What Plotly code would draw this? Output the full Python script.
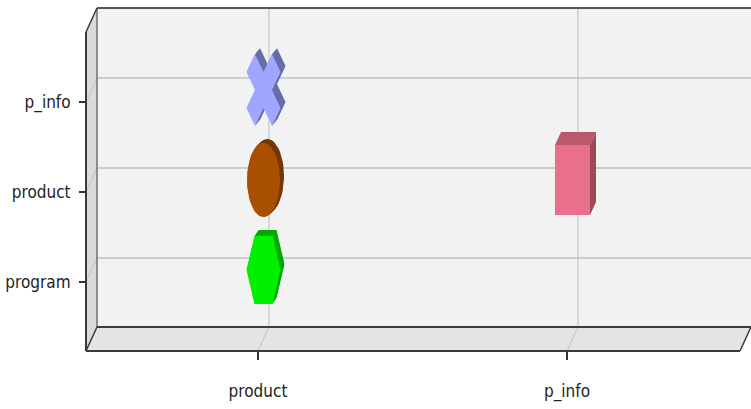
import numpy as np
import plotly.graph_objects as go

# ---- data -------------------------------------------------------------
x_categories = ["product", "p_info"]
y_categories = ["program", "product", "p_info"]

point_x = ["product", "product", "product", "p_info"]
point_y = ["p_info", "product", "program", "product"]
point_shape = ["cross", "ellipse", "hexagon", "box"]

# ---- pseudo-3D frame geometry (pixels) --------------------------------
W, H = 751, 409
BX0, BX1, BY0, BY1 = 97, 751, 8, 327      # back wall of the plot box
DX, DY = -11, 24                          # back wall -> front edge offset
GX0, GX_STEP = 269, 309                   # first x category position, spacing
GY0, GY_STEP = 258, 90                    # first (lowest) y category, spacing
MID = 0.5                                 # depth at which the glyphs sit

x_range = [(BX0 - GX0) / GX_STEP, (BX1 - GX0) / GX_STEP]
y_range = [(GY0 - BY1) / GY_STEP, (GY0 - BY0) / GY_STEP]


def px(x):
    return x / W


def py(y):
    return 1 - y / H


def dom_x(shift):
    return [px(BX0 + shift), px(BX1 + shift)]


def dom_y(shift):
    return [py(BY1 + shift), py(BY0 + shift)]


# ---- glyph outlines (pixels, x right, y up, around the face centre) ---
def cross_outline(hw=17, hh=36, c=0.5):
    u = [(0, c), (1 - c, 1), (1, 1 - c), (c, 0), (1, -(1 - c)), (1 - c, -1),
         (0, -c), (-(1 - c), -1), (-1, -(1 - c)), (-c, 0), (-1, 1 - c), (-(1 - c), 1)]
    return [(a * hw, b * hh) for a, b in u]


def ellipse_outline(rx=16.5, ry=37, n=60):
    t = np.linspace(0, 2 * np.pi, n, endpoint=False)
    return list(zip(rx * np.cos(t), ry * np.sin(t)))


def hexagon_outline():
    return [(-9, 34), (9, 34), (17, 0), (9, -34), (-9, -34), (-17, 0)]


glyph_style = {
    "cross":   dict(outline=cross_outline(), face="#a0a6ff", shade="#676dab", ext=(5, 6)),
    "ellipse": dict(outline=ellipse_outline(), face="#a85000", shade="#733800", ext=(4, 4)),
    "hexagon": dict(outline=hexagon_outline(), face="#00f000", shade="#00aa00", ext=(4, 6)),
}
BOX = dict(hw=17.5, hh=35, ext=(6, 13), face="#e9708a", top="#b85a6b", side="#9c4a5a")

fig = go.Figure()


def poly_trace(cx, cy, pts, color, ox=0.0, oy=0.0):
    xs = [cx + (p[0] + ox) / GX_STEP for p in pts]
    ys = [cy + (p[1] + oy) / GY_STEP for p in pts]
    xs.append(xs[0])
    ys.append(ys[0])
    return go.Scatter(x=xs, y=ys, xaxis="x3", yaxis="y3", mode="lines",
                      fill="toself", fillcolor=color, line=dict(width=0, color=color),
                      hoverinfo="skip", showlegend=False)


for xc, yc, shape in zip(point_x, point_y, point_shape):
    cx = x_categories.index(xc)
    cy = y_categories.index(yc)
    if shape == "box":
        hw, hh = BOX["hw"], BOX["hh"]
        ex, ey = BOX["ext"]
        side = [(hw, hh), (hw, -hh), (hw + ex, -hh + ey), (hw + ex, hh + ey)]
        top = [(-hw, hh), (hw, hh), (hw + ex, hh + ey), (-hw + ex, hh + ey)]
        front = [(-hw, hh), (hw, hh), (hw, -hh), (-hw, -hh)]
        fig.add_trace(poly_trace(cx, cy, side, BOX["side"]))
        fig.add_trace(poly_trace(cx, cy, top, BOX["top"]))
        fig.add_trace(poly_trace(cx, cy, front, BOX["face"]))
    else:
        st = glyph_style[shape]
        ex, ey = st["ext"]
        for t in np.linspace(1, 0.1, 8):
            fig.add_trace(poly_trace(cx, cy, st["outline"], st["shade"], ex * t, ey * t))
        fig.add_trace(poly_trace(cx, cy, st["outline"], st["face"]))

# keeps the front (labelled) axes and the back-wall axes alive
fig.add_trace(go.Scatter(x=[0], y=[0], xaxis="x2", yaxis="y2", mode="markers",
                         marker=dict(opacity=0), hoverinfo="skip", showlegend=False))
fig.add_trace(go.Scatter(x=[0], y=[0], xaxis="x", yaxis="y", mode="markers",
                         marker=dict(opacity=0), hoverinfo="skip", showlegend=False))


# ---- frame: back wall, left wall, floor -------------------------------
def path(pts):
    s = "M " + " L ".join(f"{px(x):.5f},{py(y):.5f}" for x, y in pts) + " Z"
    return s


def seg(x0, y0, x1, y1, color, width, layer="above"):
    return dict(type="line", xref="paper", yref="paper", x0=px(x0), y0=py(y0),
                x1=px(x1), y1=py(y1), line=dict(color=color, width=width), layer=layer)


shapes = [
    dict(type="path", xref="paper", yref="paper", layer="below",
         path=path([(BX0, BY0), (BX1, BY0), (BX1, BY1), (BX0, BY1)]),
         fillcolor="#f2f2f2", line=dict(width=0)),
    dict(type="path", xref="paper", yref="paper", layer="below",
         path=path([(BX0, BY0), (BX0 + DX, BY0 + DY), (BX0 + DX, BY1 + DY), (BX0, BY1)]),
         fillcolor="#dadada", line=dict(width=0)),
    dict(type="path", xref="paper", yref="paper", layer="below",
         path=path([(BX0, BY1), (BX1, BY1), (BX1 + DX, BY1 + DY), (BX0 + DX, BY1 + DY)]),
         fillcolor="#e4e4e4", line=dict(width=0)),
]
# back-wall grid lines at the category positions, plus their slanted
# continuation across the left wall and the floor
for i in range(len(y_categories)):
    shapes.append(dict(type="line", xref="x domain", yref="y", x0=0, x1=1, y0=i, y1=i,
                       line=dict(color="#cdcdcd", width=2), layer="below"))
    gy = GY0 - i * GY_STEP
    shapes.append(seg(BX0, gy, BX0 + DX, gy + DY, "#c4c4c4", 1, "below"))
for i in range(len(x_categories)):
    shapes.append(dict(type="line", xref="x", yref="y domain", x0=i, x1=i, y0=0, y1=1,
                       line=dict(color="#bcbcbc", width=1), layer="below"))
    gx = GX0 + i * GX_STEP
    shapes.append(seg(gx, BY1, gx + DX, BY1 + DY, "#c4c4c4", 1, "below"))

edge = "#3a3a3a"
shapes += [
    seg(BX0, BY0, BX1, BY0, "#555555", 2),
    seg(BX0, BY0, BX0, BY1, "#555555", 1.2),
    seg(BX0, BY0, BX0 + DX, BY0 + DY, edge, 1.5),
    seg(BX0 + DX, BY0 + DY, BX0 + DX, BY1 + DY, edge, 2),
    seg(BX0, BY1, BX1, BY1, edge, 2),
    seg(BX0 + DX, BY1 + DY, BX1 + DX, BY1 + DY, edge, 2),
    seg(BX0, BY1, BX0 + DX, BY1 + DY, edge, 1.5),
    seg(BX1, BY1, BX1 + DX, BY1 + DY, edge, 1.5),
]

font = dict(family="Liberation Sans Narrow, DejaVu Sans Condensed, sans-serif",
            size=17, color="#222222")
xt = list(range(len(x_categories)))
yt = list(range(len(y_categories)))

hidden = dict(showticklabels=False, ticks="", zeroline=False, showline=False, showgrid=False)

fig.update_layout(
    width=W, height=H, margin=dict(l=0, r=0, t=0, b=0),
    paper_bgcolor="white", plot_bgcolor="rgba(0,0,0,0)",
    showlegend=False, shapes=shapes, font=font,
    xaxis=dict(domain=dom_x(0), range=x_range, anchor="y", **hidden),
    yaxis=dict(domain=dom_y(0), range=y_range, anchor="x", **hidden),
    xaxis2=dict(domain=dom_x(DX), range=x_range, anchor="y2", tickvals=xt,
                ticktext=x_categories, ticks="outside", ticklen=8, tickwidth=1.5,
                tickcolor="#333333", ticklabelstandoff=17, showgrid=False,
                zeroline=False, showline=False, tickfont=font),
    yaxis2=dict(domain=dom_y(DY), range=y_range, anchor="x2", tickvals=yt,
                ticktext=y_categories, ticks="outside", ticklen=6, tickwidth=1.5,
                tickcolor="#333333", ticklabelstandoff=5, showgrid=False,
                zeroline=False, showline=False, tickfont=font),
    xaxis3=dict(domain=dom_x(DX * MID), range=x_range, anchor="y3", **hidden),
    yaxis3=dict(domain=dom_y(DY * MID), range=y_range, anchor="x3", **hidden),
)

fig.write_html("out.html")
